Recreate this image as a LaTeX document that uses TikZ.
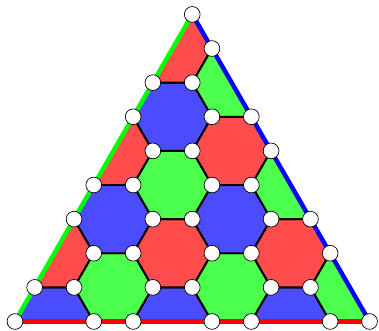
\documentclass[tikz,border=0pt]{standalone}
\usepackage{tikz}
\usetikzlibrary{positioning}
\colorlet{hex0}{blue!70}
\colorlet{hex1}{green!70}
\colorlet{hex2}{red!70}

\begin{document}
\begin{tikzpicture}[
    hexedge/.style={draw=black, line width=1.4pt, line join=round},
    sideline/.style={line width=3.2pt},
    vertex/.style={circle, draw=black, fill=white, line width=0.5pt, inner sep=0pt, minimum size=0.4cm}
]
\useasboundingbox (-0.38,-0.24) rectangle (9.24,8.16);
\def\hh{0.8660254}
% Define one hexagonal cell
\def\hexcell#1#2#3{
    % #1 = centre x, #2 = centre y, #3 = fill colour
    \filldraw[hexedge, fill=#3] (#1,#2) ++(1,0) -- ++(120:1) -- ++(180:1)
        -- ++(240:1) -- ++(300:1) -- ++(0:1) -- cycle;
}
% Corners of the triangle
\coordinate (left) at (0,0);
\coordinate (right) at (9,0);
\coordinate (apex) at (4.5,9*\hh);

% Tiling, cut to the triangle
\begin{scope}
    \clip (left) -- (right) -- (apex) -- cycle;
    \foreach \a in {-1,...,7}
        \foreach \b in {-4,...,5} {
            \pgfmathsetmacro\cx{1+1.5*\a}
            \pgfmathsetmacro\cy{(\a+2*\b)*\hh}
            \pgfmathtruncatemacro\c{mod(\a-\b+30,3)}
            \hexcell{\cx}{\cy}{hex\c}
        }
\end{scope}

% Sides
\draw[sideline, red] (left) -- (right);
\draw[sideline, green] (left) -- (apex);
\draw[sideline, blue] (apex) -- (right);

% Vertices, row by row
\foreach \k/\xs in {0/{0,2,3,5,6,8,9}, 1/{0.5,1.5,3.5,4.5,6.5,7.5}, 2/{2,3,5,6,8},
        3/{1.5,3.5,4.5,6.5,7.5}, 4/{2,3,5,6}, 5/{3.5,4.5,6.5}, 6/{3,5,6},
        7/{3.5,4.5}, 8/{5}, 9/{4.5}}
    \foreach \x [count=\i] in \xs
        \node[vertex] (v\k-\i) at (\x,\k*\hh) {};
\end{tikzpicture}
\end{document}
